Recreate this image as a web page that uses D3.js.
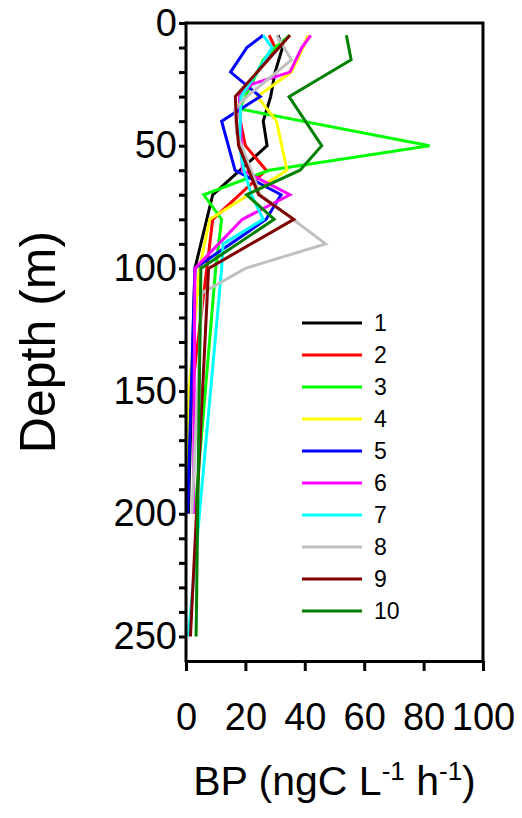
<!DOCTYPE html>
<html>
<head>
<meta charset="utf-8">
<script src="https://cdn.jsdelivr.net/npm/d3@7"></script>
<style>
    body { margin: 0; background: #fff; }
    text { font-family: "Liberation Sans", Arial, sans-serif; fill: #000; }
</style>
</head>
<body>
<svg width="522" height="818"></svg>
<script>
// bacterial production profiles, one pair of arrays per station
const depth1 = [5, 10, 20, 30, 40, 50, 70, 100, 200];
const bp1    = [31, 32.5, 30, 28.5, 26, 27.3, 9, 3, 0.8];

const depth2 = [5, 10, 20, 30, 40, 50, 60, 80, 100, 150];
const bp2    = [28, 30, 24, 18, 18.3, 20, 27, 9, 7, 2];

const depth3 = [5, 10, 15, 35, 50, 60, 70, 80, 100, 200];
const bp3    = [35, 30, 26, 18, 82, 28, 6, 12, 10, 3];

const depth4 = [5, 10, 20, 30, 40, 60, 80, 100, 150, 200];
const bp4    = [41, 39.5, 35.5, 24, 30.5, 34, 8, 4.5, 1, 0.5];

const depth5 = [5, 10, 20, 30, 40, 60, 70, 80, 100, 200];
const bp5    = [26, 20.5, 15, 25, 12, 16.5, 32, 27, 3, 0.5];

const depth6 = [5, 10, 20, 25, 30, 60, 70, 75, 80, 100, 200];
const bp6    = [42, 39, 35, 22, 18, 19, 35, 27, 19, 3, 2.5];

const depth7 = [5, 10, 20, 30, 50, 60, 70, 80, 90, 100, 250];
const bp7    = [26, 29, 24, 18.5, 18, 19.5, 22, 26, 12.5, 12, 0.8];

const depth8 = [5, 15, 30, 35, 45, 60, 70, 90, 100, 110, 200];
const bp8    = [30.5, 35.5, 20.5, 16.5, 17, 22, 25, 47, 20, 5.4, 2];

const depth9 = [5, 30, 40, 50, 70, 80, 100, 250];
const bp9    = [35, 16.6, 17, 17.7, 24.5, 36.3, 7.6, 1.5];

const depth10 = [5, 15, 30, 50, 60, 70, 80, 100, 250];
const bp10    = [54, 55.6, 34.7, 45.7, 38.4, 20.4, 29.7, 5, 3.4];

const stations = ['1', '2', '3', '4', '5', '6', '7', '8', '9', '10'];
const depths = [depth1, depth2, depth3, depth4, depth5, depth6, depth7, depth8, depth9, depth10];
const bps = [bp1, bp2, bp3, bp4, bp5, bp6, bp7, bp8, bp9, bp10];
const colors = ['#000000', '#ff0000', '#00ff00', '#ffff00', '#0000ff',
                '#ff00ff', '#00ffff', '#c0c0c0', '#800000', '#008000'];

const xTicks = [0, 20, 40, 60, 80, 100];
const yTicks = [0, 50, 100, 150, 200, 250];

const drawProfiles = () => {
    const svg = d3.select('svg');
    const left = 186, right = 483, top = 23, bottom = 661;

    const xScale = d3.scaleLinear().domain([0, 100]).range([left, right]);
    const yScale = d3.scaleLinear().domain([0, 260]).range([top, bottom]);

    const data = stations.map((s, i) => ({
        name: s,
        color: colors[i],
        points: depths[i].map((d, j) => ({ depth: d, bp: bps[i][j] }))
    }));

    const line = d3.line()
        .x(d => xScale(d.bp))
        .y(d => yScale(d.depth));

    svg.append('g').selectAll('path').data(data)
        .enter().append('path')
        .attr('d', d => line(d.points))
        .attr('fill', 'none')
        .attr('stroke', d => d.color)
        .attr('stroke-width', 3)
        .attr('stroke-linejoin', 'miter');

    // frame top + right
    svg.append('path')
        .attr('d', `M${left},${top}H${right}V${bottom}`)
        .attr('fill', 'none')
        .attr('stroke', '#000')
        .attr('stroke-width', 3);

    const yAxis = svg.append('g')
        .attr('transform', `translate(${left},0)`)
        .call(d3.axisLeft(yScale)
            .tickValues(d3.range(0, 251, 10))
            .tickSize(7)
            .tickSizeOuter(0)
            .tickFormat(d => yTicks.includes(d) ? d : ''));

    const xAxis = svg.append('g')
        .attr('transform', `translate(0,${bottom})`)
        .call(d3.axisBottom(xScale)
            .tickValues(xTicks)
            .tickSize(10)
            .tickSizeOuter(0));

    [yAxis, xAxis].forEach(ax => {
        ax.select('.domain').attr('stroke-width', 3);
        ax.selectAll('.tick line').attr('stroke-width', 3);
        ax.selectAll('text').attr('font-size', 38).attr('font-family', null);
    });
    yAxis.select('.domain').attr('d', `M0,${top - 1.5}V${bottom + 1.5}`);
    yAxis.selectAll('text').attr('x', -9);
    xAxis.selectAll('text').attr('y', 69).attr('dy', 0);

    // axis titles
    svg.append('text')
        .attr('transform', `translate(55,${(top + bottom) / 2}) rotate(-90)`)
        .attr('text-anchor', 'middle')
        .attr('font-size', 50)
        .text('Depth (m)');

    const xt = svg.append('text')
        .attr('x', (left + right) / 2)
        .attr('y', 795)
        .attr('text-anchor', 'middle')
        .attr('font-size', 41);
    xt.append('tspan').text('BP (ngC L');
    xt.append('tspan').attr('font-size', 26).attr('dy', -15).text('-1');
    xt.append('tspan').attr('dy', 15).text(' h');
    xt.append('tspan').attr('font-size', 26).attr('dy', -15).text('-1');
    xt.append('tspan').attr('dy', 15).text(')');

    // legend
    const legend = svg.append('g').selectAll('g').data(data)
        .enter().append('g')
        .attr('transform', (d, i) => `translate(302,${323 + i * 32})`);
    legend.append('line')
        .attr('x1', 0).attr('x2', 60)
        .attr('stroke', d => d.color)
        .attr('stroke-width', 3);
    legend.append('text')
        .attr('x', 72)
        .attr('dy', '0.36em')
        .attr('font-size', 23)
        .text(d => d.name);
};

drawProfiles();
</script>
</body>
</html>
